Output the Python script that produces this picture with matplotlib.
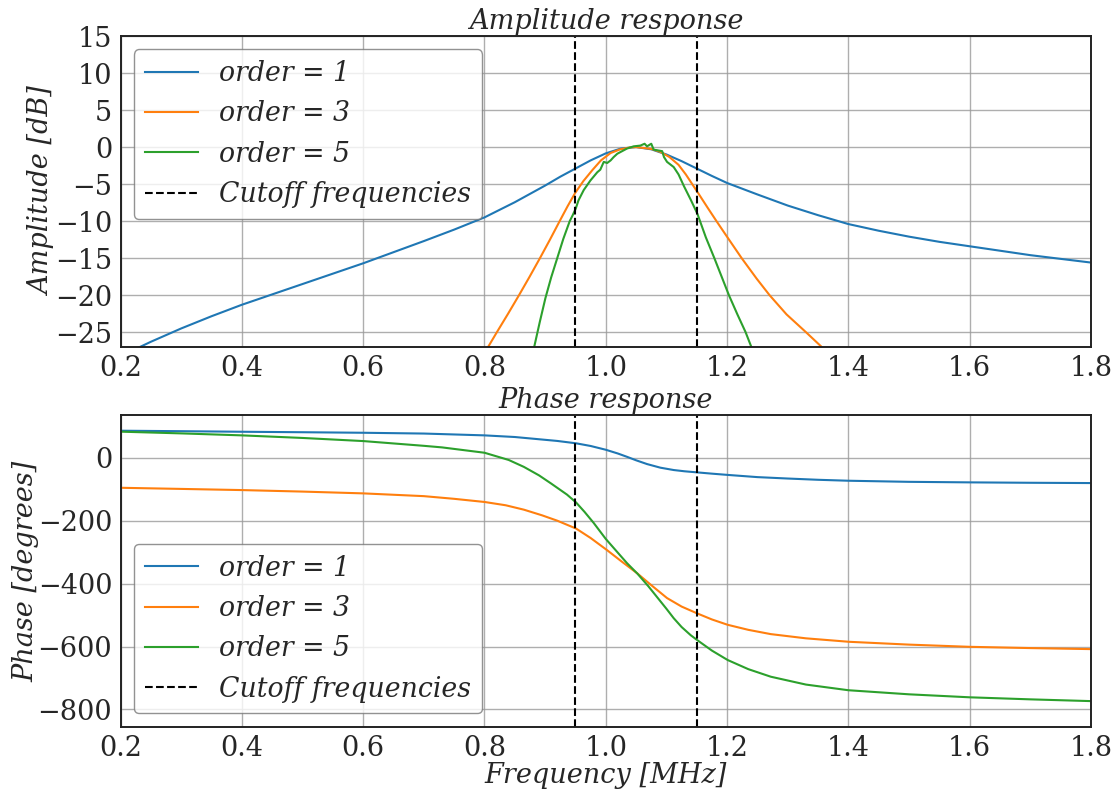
import matplotlib
matplotlib.use("Agg")
import matplotlib.pyplot as plt

# ---------------- data ----------------
cutoffs = [0.95, 1.15]
order_labels = ["order = 1", "order = 3", "order = 5"]
xticks = [0.2, 0.4, 0.6, 0.8, 1.0, 1.2, 1.4, 1.6, 1.8]
amp_yticks = [15, 10, 5, 0, -5, -10, -15, -20, -25]
phase_yticks = [0, -200, -400, -600, -800]

amp1_f = [0.20, 0.232, 0.25, 0.30, 0.35, 0.40, 0.45, 0.50, 0.55, 0.60, 0.65, 0.70, 0.75,
          0.80, 0.85, 0.90, 0.925, 0.95, 0.975, 1.00, 1.025, 1.05, 1.075, 1.10, 1.125,
          1.15, 1.175, 1.20, 1.25, 1.30, 1.35, 1.40, 1.45, 1.50, 1.55, 1.60, 1.65, 1.70,
          1.75, 1.80]
amp1_db = [-28.3, -27.0, -26.3, -24.5, -22.85, -21.3, -19.9, -18.5, -17.1, -15.7, -14.2,
           -12.7, -11.15, -9.5, -7.45, -5.2, -4.0, -2.9, -1.8, -0.85, -0.2, 0.0, -0.3, -1.0,
           -1.9, -2.9, -3.9, -4.85, -6.4, -7.9, -9.2, -10.4, -11.3, -12.1, -12.8, -13.4,
           -14.0, -14.6, -15.1, -15.6]

amp3_f = [0.795, 0.806, 0.8205, 0.839, 0.857, 0.8745, 0.8915, 0.908, 0.924, 0.937, 0.9495,
          0.963, 0.978, 0.992, 1.008, 1.024, 1.040, 1.050, 1.075, 1.090, 1.105, 1.120,
          1.132, 1.1425, 1.153, 1.168, 1.1825, 1.199, 1.224, 1.249, 1.270, 1.298, 1.330,
          1.356, 1.370]
amp3_db = [-28.5, -27.0, -25.0, -22.5, -20.0, -17.5, -15.0, -12.5, -10.0, -8.0, -6.2,
           -4.6, -3.1, -1.8, -0.8, -0.3, -0.05, 0.0, -0.25, -0.65, -1.35, -2.4, -3.7, -5.0,
           -6.3, -8.2, -10.0, -12.0, -15.0, -17.8, -20.0, -22.6, -25.0, -27.0, -28.1]

amp5_f = [0.876, 0.882, 0.891, 0.9005, 0.910, 0.920, 0.930, 0.9406, 0.9455, 0.9505, 0.955,
          0.9637, 0.9748, 0.986, 0.991, 0.9967, 1.0023, 1.008, 1.013, 1.019, 1.027, 1.035,
          1.046, 1.057, 1.064, 1.068, 1.075, 1.079, 1.093, 1.096, 1.101, 1.112, 1.120,
          1.129, 1.140, 1.151, 1.165, 1.179, 1.191, 1.203, 1.217, 1.2305, 1.240, 1.246]
amp5_db = [-28.5, -27.0, -23.7, -20.4, -17.6, -15.0, -12.4, -10.0, -9.2, -8.3, -7.2, -5.8,
           -4.5, -3.4, -3.05, -2.0, -2.15, -1.8, -1.35, -0.9, -0.55, -0.2, 0.1, 0.2, 0.45,
           0.1, 0.45, -0.35, -0.55, -1.35, -2.0, -2.7, -3.7, -5.3, -7.1, -9.0, -12.2, -15.0,
           -17.5, -20.0, -22.6, -25.0, -27.0, -28.3]

ph1_f = [0.2, 0.3, 0.4, 0.5, 0.6, 0.7, 0.8, 0.85, 0.892, 0.92, 0.951, 0.975, 1.0, 1.02,
         1.035, 1.05, 1.068, 1.09, 1.112, 1.13, 1.151, 1.175, 1.201, 1.25, 1.30, 1.35, 1.40,
         1.5, 1.6, 1.7, 1.8]
ph1_deg = [86, 84.5, 82.7, 81.2, 79.5, 77, 71.2, 66, 58.5, 53.5, 46, 37.5, 25.5, 13.5, 3,
           -8, -20, -31.5, -39, -43, -46.5, -50.5, -54.5, -61.5, -66, -70, -73, -76.5,
           -78.2, -79.5, -80.4]

ph3_f = [0.2, 0.3, 0.4, 0.5, 0.6, 0.7, 0.75, 0.8, 0.835, 0.865, 0.895, 0.92, 0.951, 0.975,
         1.002, 1.025, 1.052, 1.075, 1.101, 1.125, 1.151, 1.175, 1.201, 1.235, 1.272, 1.33,
         1.401, 1.5, 1.6, 1.7, 1.8]
ph3_deg = [-95.4, -99, -102.7, -107.5, -113.2, -122, -130.5, -140.5, -151, -165, -183,
           -200, -225, -255, -293.5, -328, -367.6, -405, -446, -473, -495, -514, -531,
           -547, -560.6, -574, -585, -594, -601, -605, -608.3]

ph5_f = [0.2, 0.3, 0.4, 0.5, 0.6, 0.7, 0.73, 0.8, 0.84, 0.865, 0.89, 0.91, 0.936, 0.951,
         0.965, 0.98, 1.0, 1.02, 1.035, 1.052, 1.07, 1.085, 1.1, 1.112, 1.125, 1.14, 1.151,
         1.175, 1.201, 1.235, 1.272, 1.33, 1.4, 1.5, 1.6, 1.7, 1.8]
ph5_deg = [83, 77.5, 71.2, 63, 53.1, 38, 33, 16, -7, -29, -56, -82, -117, -142, -172, -207,
           -258, -302, -335, -368, -408, -444, -480, -510, -538, -564, -580, -613, -643,
           -672, -696, -721, -739, -752, -761.5, -768, -773.6]

# ---------------- style ----------------
plt.rcParams["font.family"] = ["DejaVu Serif"]
FS = 19.5
LFS = 19.25
TXT = "#262626"
colors = ["#1f77b4", "#ff7f0e", "#2ca02c"]

fig = plt.figure(figsize=(11.19, 7.90), dpi=100)
ax1 = fig.add_axes([0.1077, 0.5608, 0.8673, 0.3936])
ax2 = fig.add_axes([0.1077, 0.0801, 0.8673, 0.3942])

amp_series = [(amp1_f, amp1_db), (amp3_f, amp3_db), (amp5_f, amp5_db)]
ph_series = [(ph1_f, ph1_deg), (ph3_f, ph3_deg), (ph5_f, ph5_deg)]

for ax, series in ((ax1, amp_series), (ax2, ph_series)):
    for (f, v), lab, c in zip(series, order_labels, colors):
        ax.plot(f, v, color=c, lw=1.5, label=lab)
    for i, fc in enumerate(cutoffs):
        ax.axvline(fc, color="black", ls="--", lw=1.5,
                   label="Cutoff frequencies" if i == 0 else None)
    ax.set_xlim(0.2, 1.8)
    ax.set_xticks(xticks)
    ax.grid(True, color="#9a9a9a", lw=1.0, alpha=0.8)
    ax.set_axisbelow(True)
    for s in ax.spines.values():
        s.set_color("#222222")
        s.set_linewidth(1.4)
    ax.tick_params(axis="both", length=0, pad=6, labelsize=FS, colors=TXT)

ax1.set_ylim(-27, 15)
ax1.set_yticks(amp_yticks)
ax2.set_ylim(-855, 135)
ax2.set_yticks(phase_yticks)

ax1.set_title("Amplitude response", fontsize=FS, fontstyle="italic", color=TXT, pad=5)
ax2.set_title("Phase response", fontsize=FS, fontstyle="italic", color=TXT, pad=5)
ax1.set_ylabel("Amplitude [dB]", fontsize=FS, fontstyle="italic", color=TXT, labelpad=-1)
ax2.set_ylabel("Phase [degrees]", fontsize=FS, fontstyle="italic", color=TXT, labelpad=-1)
ax2.set_xlabel("Frequency [MHz]", fontsize=FS, fontstyle="italic", color=TXT, labelpad=0)

for ax, loc in ((ax1, "upper left"), (ax2, "lower left")):
    leg = ax.legend(loc=loc, frameon=True, fancybox=True,
                    prop={"style": "italic", "size": LFS, "family": "DejaVu Serif"})
    leg.get_frame().set_edgecolor("#777777")
    leg.get_frame().set_linewidth(1.0)
    for t in leg.get_texts():
        t.set_color(TXT)

fig.savefig("out.png", dpi=100)
